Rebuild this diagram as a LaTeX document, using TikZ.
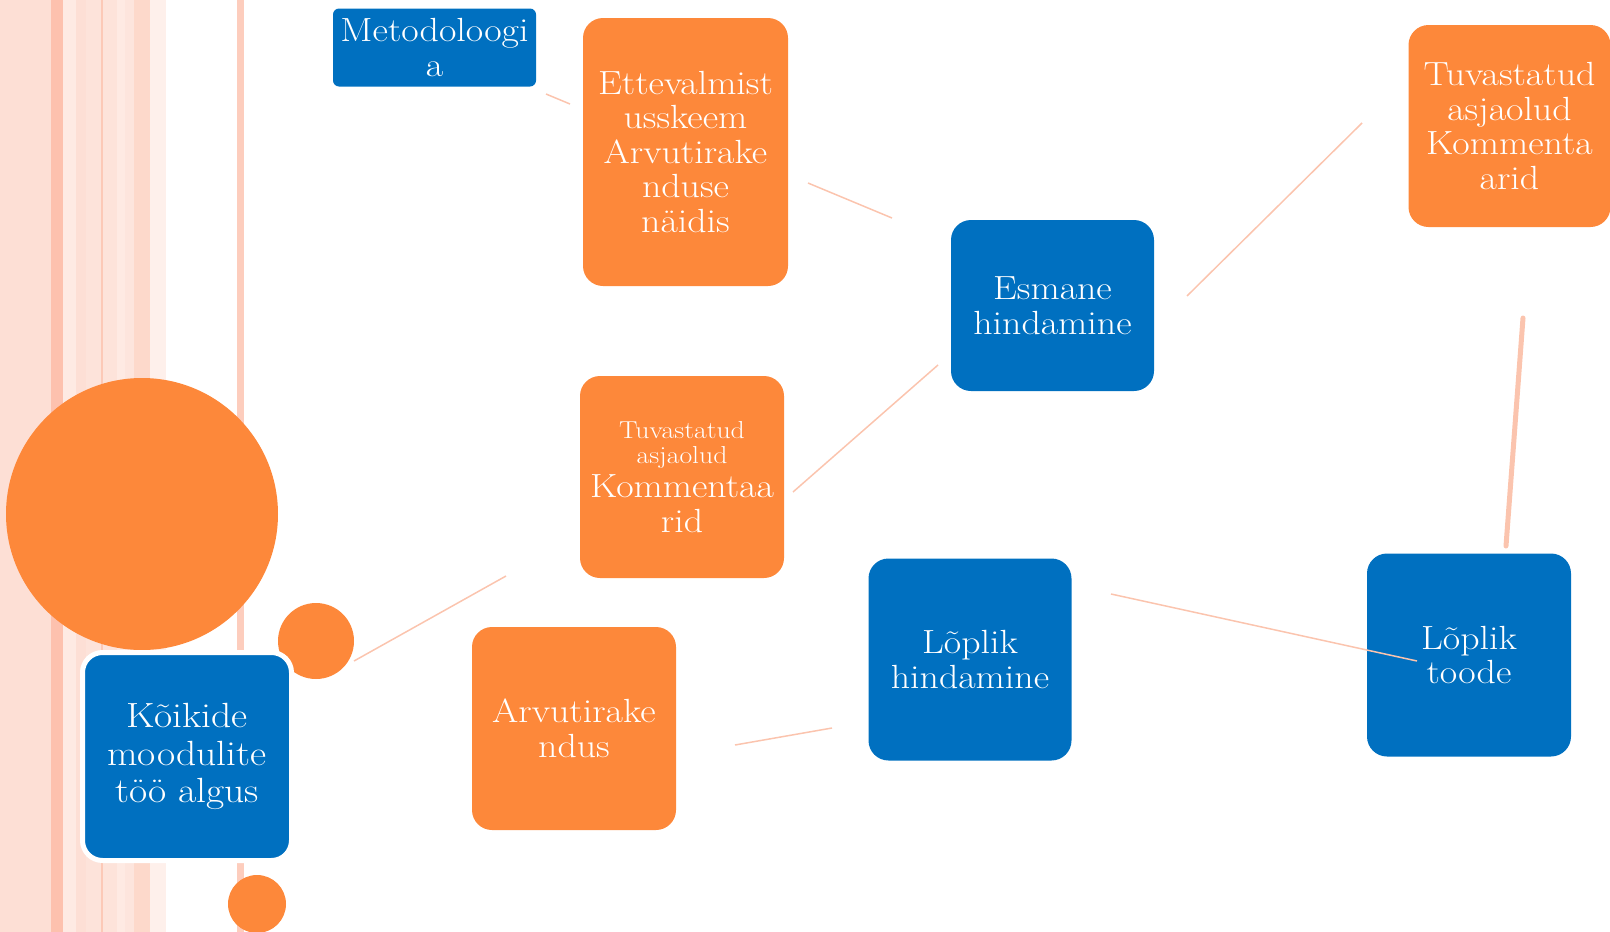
\documentclass[tikz,border=0pt]{standalone}
\usepackage{fontspec}
\setmainfont{Latin Modern Roman}[FakeStretch=1.13]
\definecolor{myblue}{RGB}{0,112,192}
\definecolor{myorange}{RGB}{253,136,58}
\definecolor{linkc}{RGB}{251,196,174}
\definecolor{stA}{RGB}{253,223,213}
\definecolor{stB}{RGB}{253,193,174}
\definecolor{stC}{RGB}{254,234,227}
\definecolor{stD}{RGB}{253,227,218}
\definecolor{stT}{RGB}{252,201,183}
\definecolor{stE}{RGB}{253,217,203}
\definecolor{stF}{RGB}{254,240,235}
\definecolor{stG}{RGB}{253,229,221}
\definecolor{vline}{RGB}{253,205,189}
\begin{document}
\begin{tikzpicture}[x=1pt,y=-1pt,
  bigtext/.style={font=\fontsize{33.5}{34.5}\selectfont},
  boxbase/.style={rounded corners=20pt, text=white, align=center, inner sep=0pt, bigtext},
  ob/.style={boxbase, fill=myorange},
  bb/.style={boxbase, fill=myblue},
  link/.style={draw=linkc, line width=1.5pt}]
\useasboundingbox (0,0) rectangle (1610,932);
% background stripes
\fill[stA] (0,0) rectangle (51,932);
\fill[stB] (51,0) rectangle (63,932);
\fill[stC] (63,0) rectangle (76,932);
\fill[stA] (76,0) rectangle (86,932);
\fill[stD] (86,0) rectangle (101,932);
\fill[stT] (101,0) rectangle (103,932);
\fill[stD] (103,0) rectangle (117,932);
\fill[stC] (117,0) rectangle (125,932);
\fill[stG] (125,0) rectangle (134,932);
\fill[stE] (134,0) rectangle (150,932);
\fill[stF] (150,0) rectangle (166,932);
\fill[vline] (237,0) rectangle (244,932);
% circles
\fill[myorange] (142,514) circle (136);
\fill[myorange] (316,641) circle (38);
\fill[myorange] (257,904) circle (29);
% nodes
\node[bb, rounded corners=6pt, minimum width=203pt, minimum height=78pt] (meto) at (434.5,47.5) {Metodoloogi\\a};
\node[ob, minimum width=205pt, minimum height=268pt] (ette) at (685.5,152) {Ettevalmist\\usskeem\\Arvutirake\\nduse\\näidis};
\node[bb, minimum width=203pt, minimum height=171pt] (esm) at (1052.5,305.5) {Esmane\\hindamine};
\node[ob, minimum width=204pt, minimum height=202pt, text width=200pt] (tuvA) at (682,477)
  {{\fontsize{24.5}{25}\selectfont Tuvastatud\\asjaolud\par}Kommentaa\\rid};
\node[ob, minimum width=202pt, minimum height=202pt] (tuvB) at (1509.5,126) {Tuvastatud\\asjaolud\\Kommenta\\arid};
\node[bb, minimum width=203pt, minimum height=202pt] (lhind) at (970,659.5) {Lõplik\\hindamine};
\node[bb, minimum width=204pt, minimum height=203pt] (ltoode) at (1469,655) {Lõplik\\toode};
\node[ob, minimum width=204pt, minimum height=203pt] (arv) at (574,728.5) {Arvutirake\\ndus};
\node[bb, draw=white, line width=5pt, minimum width=209pt, minimum height=208pt,
  font=\fontsize{35}{37.5}\selectfont] (koik) at (187,756.5) {Kõikide\\moodulite\\töö algus};
% connectors
\coordinate (l1a) at (546,94);   \coordinate (l1b) at (570,104);
\coordinate (l2a) at (808,183);  \coordinate (l2b) at (892,218);
\coordinate (l3a) at (793,492);  \coordinate (l3b) at (938,365);
\coordinate (l4a) at (1187,296); \coordinate (l4b) at (1362,123);
\coordinate (l5a) at (1523,318); \coordinate (l5b) at (1506,546);
\coordinate (l6a) at (1111,594); \coordinate (l6b) at (1417,661);
\coordinate (l7a) at (735,745);  \coordinate (l7b) at (832,728);
\coordinate (l8a) at (354,661);  \coordinate (l8b) at (506,576);
\draw[link] (l1a) -- (l1b);
\draw[link] (l2a) -- (l2b);
\draw[link] (l3a) -- (l3b);
\draw[link] (l4a) -- (l4b);
\draw[link, line width=5pt, line cap=round] (l5a) -- (l5b);
\draw[link] (l6a) -- (l6b);
\draw[link] (l7a) -- (l7b);
\draw[link] (l8a) -- (l8b);
\end{tikzpicture}
\end{document}
